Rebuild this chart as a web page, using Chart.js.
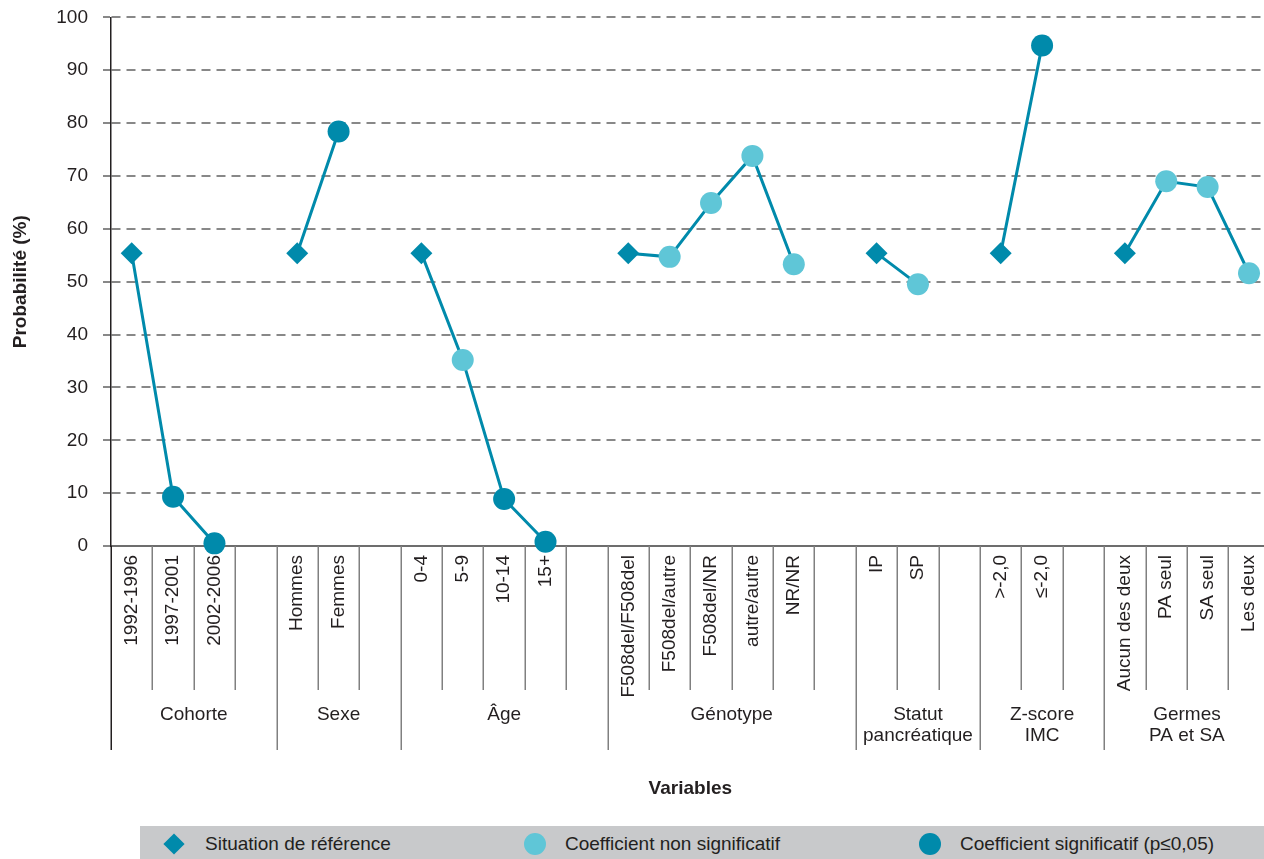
<!DOCTYPE html>
<html lang="fr">
<head>
<meta charset="utf-8">
<title>Probabilité selon les variables</title>
<script src="https://cdn.jsdelivr.net/npm/chart.js@4/dist/chart.umd.min.js"></script>
<style>
  html, body { margin: 0; padding: 0; background: #fff; width: 1264px; height: 859px; overflow: hidden; }
  #wrap { position: absolute; left: 0; top: -9px; width: 1281px; height: 831px; }
  #legend { position: absolute; left: 140px; top: 826px; width: 1124px; height: 33px; background: #c8c9cb;
    font: 19px 'Liberation Sans', Arial, sans-serif; color: #231f20; }
  .mark { position: absolute; top: 18px; width: 22px; height: 22px; border-radius: 50%; transform: translate(-50%, -50%); }
  .diamond { width: 15px; height: 15px; border-radius: 0; transform: translate(-50%, -50%) rotate(45deg); }
  .txt { position: absolute; top: 18px; transform: translateY(-50%); white-space: nowrap; }
</style>
</head>
<body>
<div id="wrap"><canvas id="chart" width="1281" height="831"></canvas></div>
<div id="legend">
  <div class="mark diamond" style="left:34px;background:#008aab"></div>
  <div class="txt" style="left:65px">Situation de référence</div>
  <div class="mark" style="left:395px;background:#5fc6d7"></div>
  <div class="txt" style="left:425px">Coefficient non significatif</div>
  <div class="mark" style="left:790px;background:#008aab"></div>
  <div class="txt" style="left:820px">Coefficient significatif (p≤0,05)</div>
</div>
<script>
// categories ('' = empty slot between groups)
const labels = [
  "1992-1996", "1997-2001", "2002-2006", "",
  "Hommes", "Femmes", "",
  "0-4", "5-9", "10-14", "15+", "",
  "F508del/F508del", "F508del/autre", "F508del/NR", "autre/autre", "NR/NR", "",
  "IP", "SP", "",
  ">-2,0", "≤-2,0", "",
  "Aucun des deux", "PA seul", "SA seul", "Les deux"
];

// probability (%)
const probabilities = [
  55.4, 9.3, 0.5, null,
  55.4, 78.4, null,
  55.4, 35.2, 8.9, 0.8, null,
  55.4, 54.7, 64.9, 73.8, 53.3, null,
  55.4, 49.5, null,
  55.4, 94.7, null,
  55.4, 69.0, 67.9, 51.6
];

// ref = situation de référence, ns = non significatif, sig = significatif
const status = [
  "ref", "sig", "sig", null,
  "ref", "sig", null,
  "ref", "ns", "sig", "sig", null,
  "ref", "ns", "ns", "ns", "ns", null,
  "ref", "ns", null,
  "ref", "sig", null,
  "ref", "ns", "ns", "ns"
];

// variable groups
const groupNames = [
  ["Cohorte"], ["Sexe"], ["Âge"], ["Génotype"],
  ["Statut", "pancréatique"], ["Z-score", "IMC"], ["Germes", "PA et SA"]
];
const groupStarts = [0, 4, 7, 12, 18, 21, 24, 28];

const yTicks = [0, 10, 20, 30, 40, 50, 60, 70, 80, 90, 100];

const darkTeal = "#008aab";
const lightTeal = "#5fc6d7";
const textColour = "#231f20";
const fontFamily = "'Liberation Sans', Arial, sans-serif";

// Draw the slot separators and the group names under the axis
const groupAxis = {
  id: "groupAxis",
  beforeDatasetsDraw(chart) {
    const ctx = chart.ctx;
    const x = chart.scales.x;
    const step = x.width / labels.length;
    const top = x.top;
    ctx.save();
    ctx.lineWidth = 1.5;
    for (let i = 0; i <= labels.length; i++) {
      const px = Math.round(x.left + i * step) + 0.25;
      const edge = groupStarts.includes(i);
      ctx.strokeStyle = i === 0 ? textColour : "#808080";
      ctx.beginPath();
      ctx.moveTo(px, top);
      ctx.lineTo(px, top + (edge ? 204 : 144));
      ctx.stroke();
    }
    ctx.fillStyle = textColour;
    ctx.font = "19px " + fontFamily;
    ctx.textAlign = "center";
    ctx.textBaseline = "middle";
    groupNames.forEach((lines, g) => {
      const cx = x.left + ((groupStarts[g] + groupStarts[g + 1]) / 2) * step;
      lines.forEach((t, k) => ctx.fillText(t, cx, top + 169 + k * 21));
    });
    ctx.restore();
  }
};

new Chart(document.getElementById("chart"), {
  type: "line",
  data: {
    labels: labels,
    datasets: [{
      data: probabilities,
      borderColor: darkTeal,
      borderWidth: 3,
      spanGaps: false,
      clip: false,
      pointStyle: status.map((s) => (s === "ref" ? "rectRot" : "circle")),
      pointRadius: 11,
      pointHoverRadius: 11,
      pointBackgroundColor: status.map((s) => (s === "ns" ? lightTeal : darkTeal)),
      pointBorderWidth: 0,
      pointHoverBorderWidth: 0
    }]
  },
  options: {
    responsive: false,
    animation: false,
    layout: { padding: { top: 8, right: 0, bottom: 0, left: 0 } },
    plugins: {
      legend: { display: false },
      tooltip: { enabled: false }
    },
    scales: {
      x: {
        offset: true,
        grid: { display: false, drawTicks: false },
        border: { color: "#6d6d6d", width: 2 },
        ticks: {
          autoSkip: false,
          minRotation: 90,
          maxRotation: 90,
          padding: 9,
          color: textColour,
          font: { family: fontFamily, size: 19 }
        },
        title: {
          display: true,
          text: "Variables",
          color: textColour,
          font: { family: fontFamily, size: 19, weight: "bold" },
          padding: { top: 0, bottom: 22 }
        },
        afterFit: (s) => { s.height = 831 - 555; }
      },
      y: {
        min: 0,
        max: 100,
        afterBuildTicks: (s) => { s.ticks = yTicks.map((v) => ({ value: v })); },
        grid: { color: "#888888", lineWidth: 2, tickLength: 8, tickColor: "#888888" },
        border: { color: textColour, width: 1.5, dash: [9, 6] },
        ticks: {
          padding: 15,
          color: textColour,
          font: { family: fontFamily, size: 19 }
        },
        title: {
          display: true,
          text: "Probabilité (%)",
          color: textColour,
          font: { family: fontFamily, size: 19, weight: "bold" },
          padding: { top: 9, bottom: 0 }
        },
        afterFit: (s) => { s.width = 111; }
      }
    }
  },
  plugins: [groupAxis]
});
</script>
</body>
</html>
